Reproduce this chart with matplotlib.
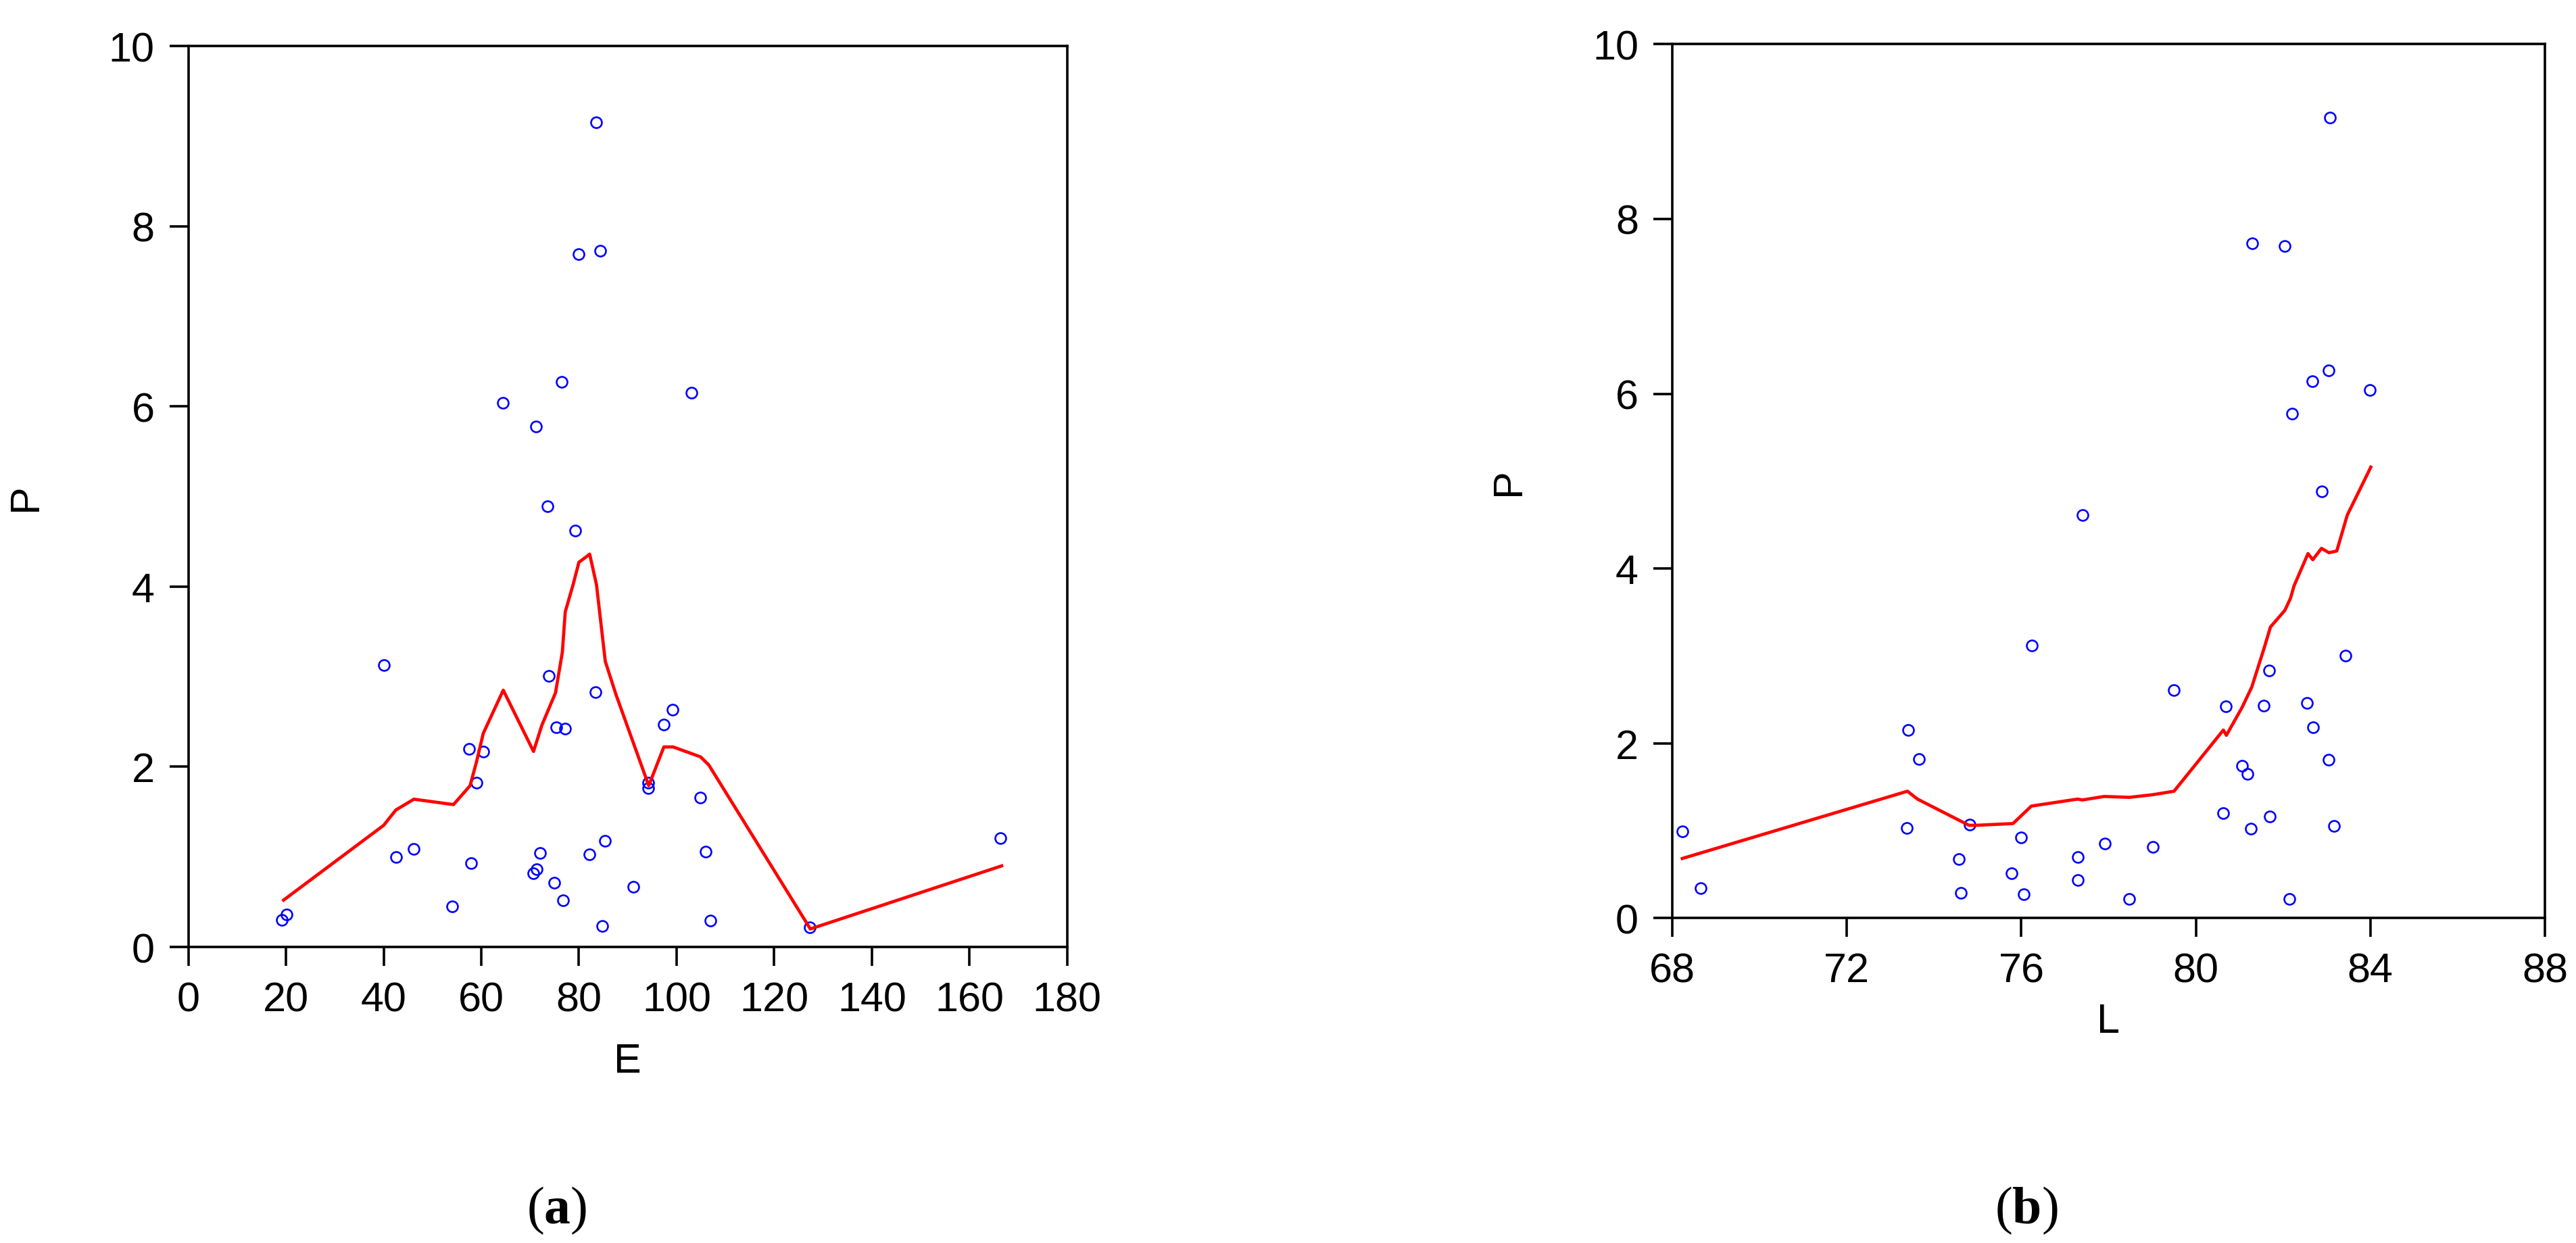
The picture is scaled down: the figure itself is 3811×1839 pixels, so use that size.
import matplotlib
matplotlib.use("Agg")
import matplotlib.pyplot as plt

# panel (a): P against E
E_pts = [19.1, 20.1, 40.0, 42.5, 46.2, 54.0, 57.5, 57.9, 59.0, 60.4,
         64.4, 70.6, 71.3, 71.2, 72.1, 73.6, 73.9, 75.0, 75.3, 76.5,
         76.7, 77.1, 79.2, 79.9, 82.1, 83.4, 83.6, 84.4, 84.8, 85.4,
         91.1, 94.2, 94.2, 97.4, 99.2, 103.0, 104.8, 106.0, 106.9, 127.3,
         166.4]
P_a = [0.30, 0.36, 3.13, 1.00, 1.09, 0.45, 2.20, 0.93, 1.82, 2.17,
       6.04, 0.82, 0.86, 5.78, 1.04, 4.89, 3.01, 0.71, 2.44, 6.27,
       0.52, 2.42, 4.62, 7.69, 1.03, 2.83, 9.15, 7.73, 0.23, 1.18,
       0.67, 1.82, 1.76, 2.47, 2.63, 6.15, 1.66, 1.06, 0.29, 0.22,
       1.21]
E_fit = [19.5, 40.0, 42.5, 46.2, 54.3, 57.7, 59.0, 60.4, 64.5, 70.7,
         72.4, 75.2, 76.6, 77.2, 78.8, 80.0, 81.5, 82.2, 83.6, 85.4,
         87.6, 94.3, 97.4, 99.3, 104.9, 106.6, 127.4, 166.6]
P_fit_a = [0.52, 1.35, 1.52, 1.64, 1.58, 1.79, 2.05, 2.37, 2.85, 2.17,
           2.46, 2.82, 3.27, 3.72, 4.02, 4.27, 4.33, 4.36, 4.02, 3.17,
           2.80, 1.79, 2.22, 2.22, 2.11, 2.02, 0.20, 0.90]

# panel (b): P against L
L_pts = [68.23, 68.65, 73.38, 73.41, 73.65, 74.57, 74.61, 74.81, 75.77, 76.00,
         76.06, 76.24, 77.29, 77.30, 77.40, 77.92, 78.47, 79.01, 79.50, 80.62,
         80.69, 81.06, 81.18, 81.26, 81.29, 81.56, 81.68, 81.69, 82.04, 82.15,
         82.21, 82.54, 82.67, 82.68, 82.88, 83.04, 83.05, 83.08, 83.17, 83.43,
         83.99]
P_b = [0.99, 0.34, 1.03, 2.15, 1.82, 0.67, 0.29, 1.07, 0.51, 0.92,
       0.27, 3.12, 0.70, 0.43, 4.61, 0.85, 0.22, 0.81, 2.61, 1.20,
       2.42, 1.74, 1.65, 1.02, 7.72, 2.43, 2.83, 1.16, 7.69, 0.22,
       5.77, 2.46, 6.14, 2.18, 4.88, 6.27, 1.81, 9.16, 1.05, 3.00,
       6.04]
L_fit = [68.23, 73.39, 73.62, 74.80, 74.97, 75.81, 76.23, 77.29, 77.40, 77.90,
         78.48, 79.01, 79.50, 80.63, 80.70, 81.06, 81.28, 81.56, 81.71, 82.04,
         82.17, 82.25, 82.57, 82.68, 82.88, 83.05, 83.23, 83.47, 84.01]
P_fit_b = [0.68, 1.45, 1.36, 1.06, 1.06, 1.08, 1.28, 1.36, 1.35, 1.39,
           1.38, 1.41, 1.45, 2.15, 2.09, 2.41, 2.64, 3.08, 3.33, 3.52,
           3.66, 3.80, 4.17, 4.10, 4.23, 4.18, 4.20, 4.61, 5.16]

plt.rcParams["font.family"] = ["Liberation Sans", "DejaVu Sans"]
plt.rcParams["mathtext.fontset"] = "custom"
plt.rcParams["mathtext.rm"] = "Liberation Serif"
plt.rcParams["mathtext.bf"] = "Liberation Serif:bold"

FS = 44
LW = 2.6

fig = plt.figure(figsize=(38.11, 18.40), dpi=100)
ax_a = fig.add_axes([0.07313, 0.23804, 0.34112, 0.72446])
ax_b = fig.add_axes([0.64917, 0.26141, 0.33876, 0.70245])


def style(ax, xlim, xticks, xlabel, ylab_x, xlab_y):
    ax.set_xlim(*xlim)
    ax.set_ylim(0, 10)
    ax.set_xticks(xticks)
    ax.set_yticks([0, 2, 4, 6, 8, 10])
    for s in ax.spines.values():
        s.set_linewidth(LW)
    ax.tick_params(direction="out", length=20, width=LW, pad=16,
                   labelsize=FS, top=False, right=False)
    ax.set_xlabel(xlabel, fontsize=FS)
    ax.set_ylabel("P", fontsize=FS)
    ax.yaxis.set_label_coords(ylab_x, 0.5)
    ax.xaxis.set_label_coords(0.5, xlab_y)


ax_a.plot(E_pts, P_a, "o", mfc="none", mec="#0000FF", ms=11.5, mew=1.9,
          clip_on=False)
ax_a.plot(E_fit, P_fit_a, "-", color="#FF0000", lw=3.4)
style(ax_a, (0, 180), range(0, 181, 20), "E", -0.163, -0.106)

ax_b.plot(L_pts, P_b, "o", mfc="none", mec="#0000FF", ms=11.5, mew=1.9,
          clip_on=False)
ax_b.plot(L_fit, P_fit_b, "-", color="#FF0000", lw=3.4)
style(ax_b, (68, 88), range(68, 89, 4), "L", -0.165, -0.097)

fig.text(0.2162, 1 - 1791 / 1840, r"($\mathbf{a}$)", fontsize=56,
         family="Liberation Serif", ha="center", va="center")
fig.text(0.7867, 1 - 1791 / 1840, r"($\mathbf{b}$)", fontsize=56,
         family="Liberation Serif", ha="center", va="center")

fig.savefig("out.png", dpi=100)
plt.close(fig)
